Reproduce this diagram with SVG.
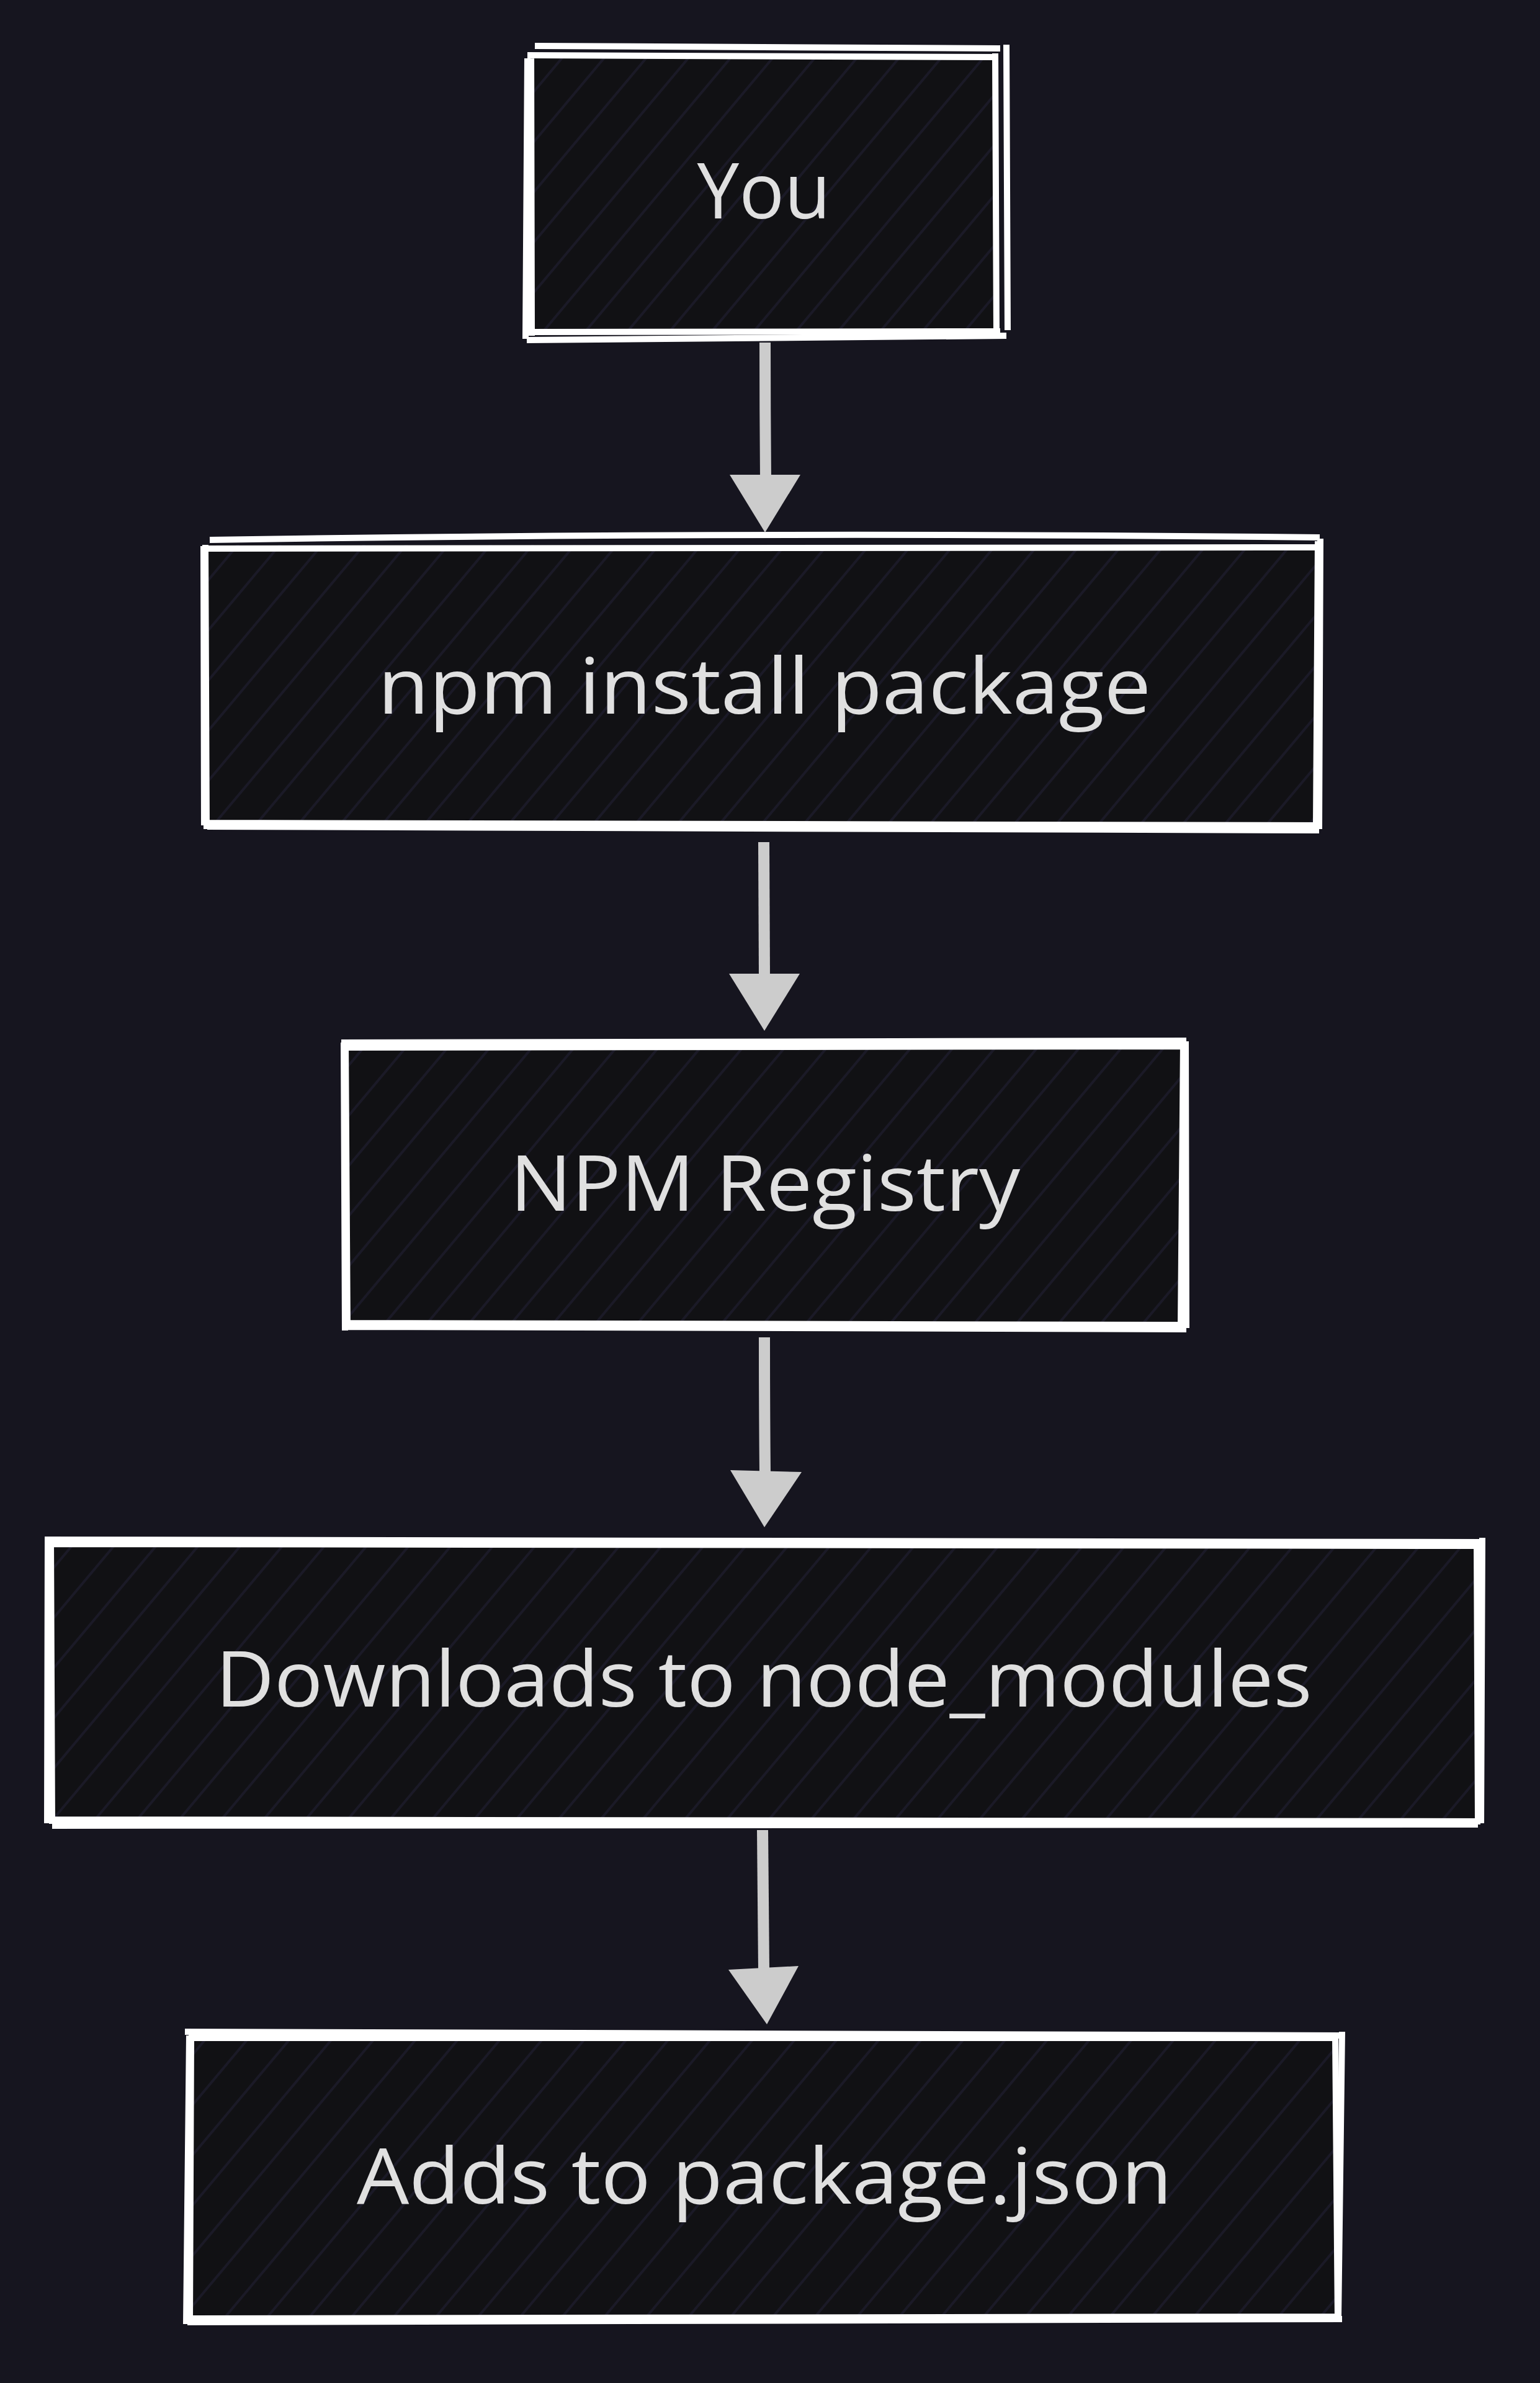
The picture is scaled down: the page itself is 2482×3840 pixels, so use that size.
<svg xmlns="http://www.w3.org/2000/svg" width="2482" height="3840" viewBox="0 0 2482 3840">
  <defs>
    <pattern id="hatch" patternUnits="userSpaceOnUse" width="52" height="52" patternTransform="rotate(40)">
      <rect x="0" y="0" width="52" height="52" fill="#111114"/>
      <line x1="26" y1="0" x2="26" y2="52" stroke="#1b1a27" stroke-width="4"/>
    </pattern>
  </defs>
  <style>
    .bg { fill: #16151f; }
    .fill { fill: url(#hatch); stroke: none; }
    .edge { fill: none; stroke: #ffffff; stroke-width: 10; stroke-linecap: butt; }
    .label { font-family: "Open Sans", "Noto Sans", "Liberation Sans", sans-serif; font-size: 124px; fill: #e0e0e0; text-anchor: middle; }
    .wire { fill: none; stroke: #cccccc; stroke-width: 18; }
    .head { fill: #cccccc; stroke: none; }
  </style>
  <rect class="bg" x="0" y="0" width="2482" height="3840"/>

  <g id="node-you">
    <rect class="fill" x="857" y="89" width="748" height="446"/>
    <path class="edge" d="M850,89 L1606,92 M1604,86 L1606,536 M1612,534 L852,535 M857,541 L856,85"/>
    <path class="edge" d="M862,74 L1612,78 M1622,72 L1624,532 M1622,541 L849,548 M847,546 L850,94"/>
    <text class="label" x="1231" y="352" textLength="215" lengthAdjust="spacingAndGlyphs">You</text>
  </g>

  <g id="node-npm-install">
    <rect class="fill" x="333" y="878" width="1792" height="452"/>
    <path class="edge" d="M329,884 L2128,882 M2124,872 L2121,1330 M2130,1330 L336,1326 M333,1336 L331,878"/>
    <path class="edge" d="M338,870 Q1230,856 2127,866 M2128,868 L2126,1336 M2126,1338 L334,1332 M329,1330 L328,880"/>
    <text class="label" x="1232" y="1150" textLength="1246" lengthAdjust="spacingAndGlyphs">npm install package</text>
  </g>

  <g id="node-registry">
    <rect class="fill" x="556" y="1684" width="1350" height="452"/>
    <path class="edge" d="M553,1688 L1906,1686 M1907,1680 L1903,2134 M1910,2135 L559,2132 M560,2140 L557,1684"/>
    <path class="edge" d="M550,1680 L1912,1677 M1911,1678 L1912,2140 M1912,2142 L552,2138 M556,2144 L554,1680"/>
    <text class="label" x="1233" y="1951" textLength="822" lengthAdjust="spacingAndGlyphs">NPM Registry</text>
  </g>

  <g id="node-downloads">
    <rect class="fill" x="80" y="2486" width="2302" height="448"/>
    <path class="edge" d="M78,2488 L2378,2491 M2380,2484 L2382,2934 M2386,2935 L80,2932 M84,2939 L82,2484"/>
    <path class="edge" d="M72,2481 L2386,2485 M2389,2478 L2387,2938 M2382,2940 L84,2942 M76,2938 L77,2480"/>
    <text class="label" x="1231" y="2750" textLength="1767" lengthAdjust="spacingAndGlyphs">Downloads to node_modules</text>
  </g>

  <g id="node-adds">
    <rect class="fill" x="304" y="3280" width="1853" height="456"/>
    <path class="edge" d="M298,3274 L2160,3280 M2163,3274 L2157,3736 M2163,3737 L302,3742 M300,3745 L305,3280"/>
    <path class="edge" d="M304,3284 L2154,3284 M2152,3280 L2156,3740 M2160,3733 L308,3736 M306,3740 L308,3284"/>
    <text class="label" x="1232" y="3551" textLength="1314" lengthAdjust="spacingAndGlyphs">Adds to package.json</text>
  </g>

  <g id="connectors">
    <path class="wire" d="M1233,552 Q1233,660 1234,770"/>
    <polygon class="head" points="1176,765 1290,765 1233,858"/>
    <path class="wire" d="M1231,1357 Q1232,1470 1232,1574"/>
    <polygon class="head" points="1175,1569 1289,1569 1232,1661"/>
    <path class="wire" d="M1232,2155 Q1232,2265 1233,2374"/>
    <polygon class="head" points="1177,2369 1292,2372 1232,2461"/>
    <path class="wire" d="M1229,2949 Q1230,3060 1231,3172"/>
    <polygon class="head" points="1174,3174 1287,3168 1236,3262"/>
  </g>
</svg>
